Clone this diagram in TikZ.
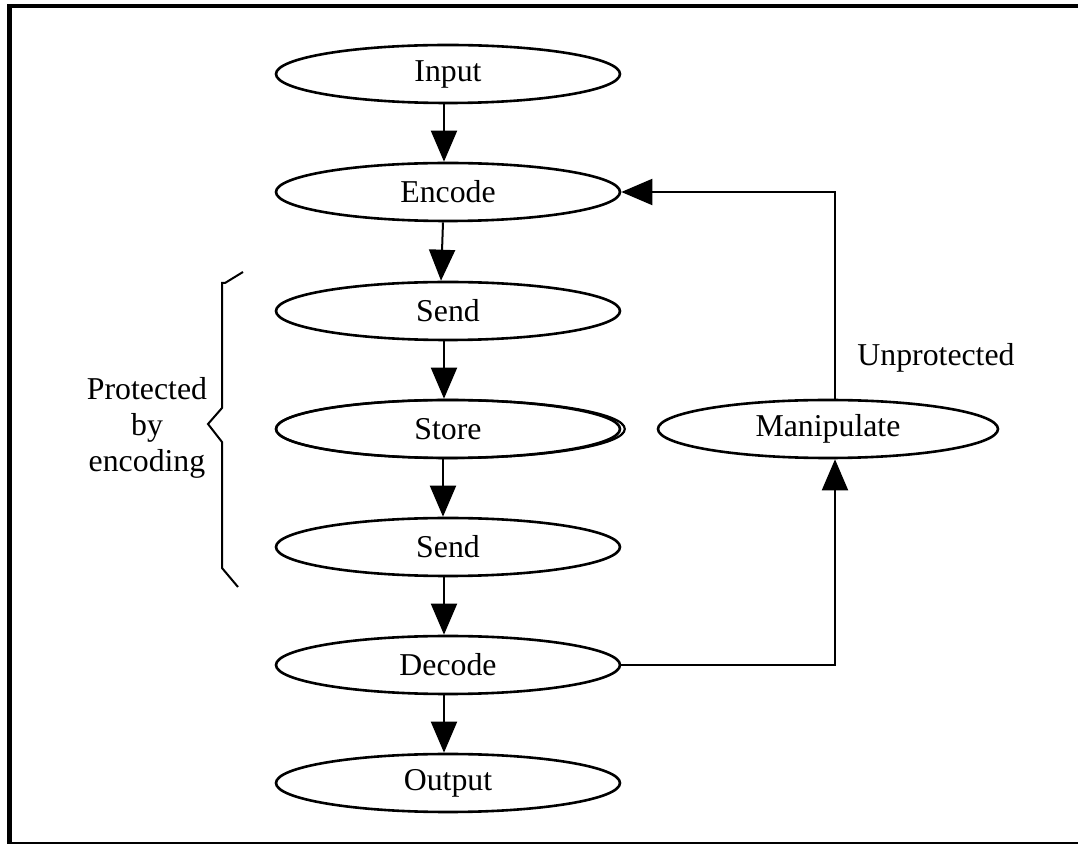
\documentclass[tikz,border=0pt]{standalone}
\usepackage{fontspec}
\setmainfont{Liberation Serif}
\usetikzlibrary{shapes.geometric,arrows.meta,calc}

\tikzset{
    stage/.style={draw, ellipse, line width=1.3pt, minimum width=172pt, minimum height=29pt, inner sep=0pt},
    flow/.style={line width=1pt, -{Triangle[length=15.5pt,width=13pt]}},
}

\begin{document}
\begin{tikzpicture}[x=0.5pt, y=-0.5pt, font=\fontsize{15.9}{18}\selectfont]
        \useasboundingbox (0,0) rectangle (1078,844);

        % frame
        \draw[line width=2.2pt] (1078,6) -- (9.5,6) -- (9.5,844);
        \draw[line width=0.8pt] (9.5,843) -- (1078,843);

        % stages
        \node[stage] (input)  at (448,74)  {Input};
        \node[stage] (encode) at (448,192) {Encode};
        \node[stage] (send1)  at (448,311) {Send};
        \node[stage] (store)  at (448,429) {Store};
        \node[stage] (send2)  at (448,547) {Send};
        \node[stage] (decode) at (448,665) {Decode};
        \node[stage] (output) at (448,783) {Output};
        \node[stage, minimum width=170pt] (manip) at (828,429) {Manipulate};

        % second outline on store
        \draw[line width=1.1pt] ([xshift=1.2pt]store.center) ellipse [x radius=87.2pt, y radius=14.5pt];

        % main flow
        \draw[flow] ([xshift=-2pt]input.south)  -- ([xshift=-2pt]encode.north);
        \draw[flow] ([xshift=-2.5pt]encode.south) -- ([xshift=-3.5pt]send1.north);
        \draw[flow] ([xshift=-2pt]send1.south)  -- ([xshift=-2pt]store.north);
        \draw[flow] ([xshift=-2.5pt]store.south)  -- ([xshift=-2.5pt]send2.north);
        \draw[flow] ([xshift=-2pt]send2.south)  -- ([xshift=-2pt]decode.north);
        \draw[flow] ([xshift=-2pt]decode.south) -- ([xshift=-2pt]output.north);

        % loop through manipulate
        \draw[flow] (decode.east) -| ([xshift=3.5pt]manip.south);
        \draw[flow] ([xshift=3.5pt]manip.north) |- (encode.east);

        % Text
        \node (unprot) at (936,358) {Unprotected};
        \node[align=center] (prot) at (147,428) {Protected\\by\\encoding};

        % brace
        \draw[line width=1pt] (243,272) -- (225,283) -- (222,283) -- (222,408) -- (208,424) -- (222,442) -- (222,568) -- (238,587);

\end{tikzpicture}
\end{document}
